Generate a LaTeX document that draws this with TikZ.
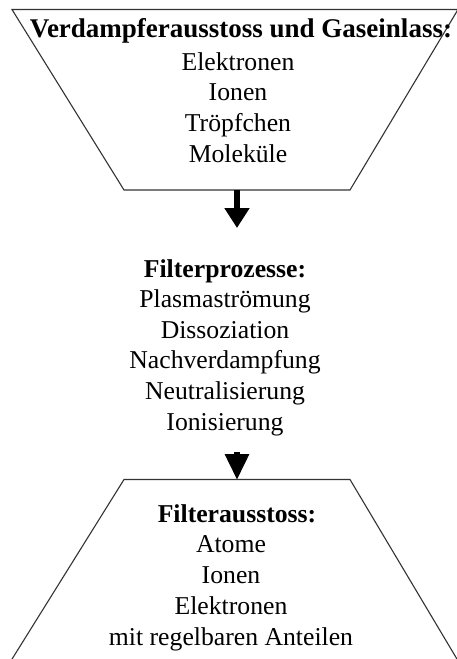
\documentclass[tikz,border=0pt]{standalone}
\usepackage{fontspec}
\setmainfont{Liberation Serif}
\usetikzlibrary{arrows.meta}
\begin{document}
\begin{tikzpicture}[x=1pt,y=-1pt,
  edge/.style={draw=black!80,line width=1.1pt,line join=miter},
  txt/.style={anchor=base,inner sep=0pt,font=\fontsize{25.7}{30}\selectfont},
  ttl/.style={anchor=base,inner sep=0pt,font=\fontsize{25.7}{30}\selectfont\bfseries},
  flowa/.style={line width=6pt,-{Triangle[width=24pt,length=20pt]}},
  flowb/.style={line width=6pt,-{Triangle[width=23pt,length=26pt]}}]
\useasboundingbox (0,0) rectangle (457,659);
\begin{scope}
  \clip (0,0) rectangle (457,659);
  \draw[edge] (12,9.5) -- (458,9.5) -- (350,190) -- (124,190) -- cycle;
  \draw[edge] (5.2,670) -- (124,479.5) -- (350,479.5) -- (463.5,670);
\end{scope}
% coordinates on the shapes
\coordinate (topout) at (237,190);
\coordinate (a1end) at (237,228);
\coordinate (a2start) at (237,452);
\coordinate (botin) at (237,480);
% top block
\node[ttl,font=\fontsize{27}{30}\selectfont\bfseries] (t0) at (241,37) {Verdampferausstoss und Gaseinlass:};
\node[txt] (t1) at (238,70) {Elektronen};
\node[txt] (t2) at (238,100) {Ionen};
\node[txt] (t3) at (238,131) {Tröpfchen};
\node[txt] (t4) at (238,162) {Moleküle};
% middle block
\node[ttl] (m0) at (225,277) {Filterprozesse:};
\node[txt] (m1) at (225,307) {Plasmaströmung};
\node[txt] (m2) at (225,338) {Dissoziation};
\node[txt] (m3) at (225,368) {Nachverdampfung};
\node[txt] (m4) at (225,399) {Neutralisierung};
\node[txt] (m5) at (225,430) {Ionisierung};
% bottom block
\node[ttl] (b0) at (237,522) {Filterausstoss:};
\node[txt] (b1) at (231,552) {Atome};
\node[txt] (b2) at (231,583) {Ionen};
\node[txt] (b3) at (231,614) {Elektronen};
\node[txt] (b4) at (231,645) {mit regelbaren Anteilen};
% arrows
\draw[flowa] (topout) -- (a1end);
\draw[flowb] (a2start) -- (botin);
\end{tikzpicture}
\end{document}
